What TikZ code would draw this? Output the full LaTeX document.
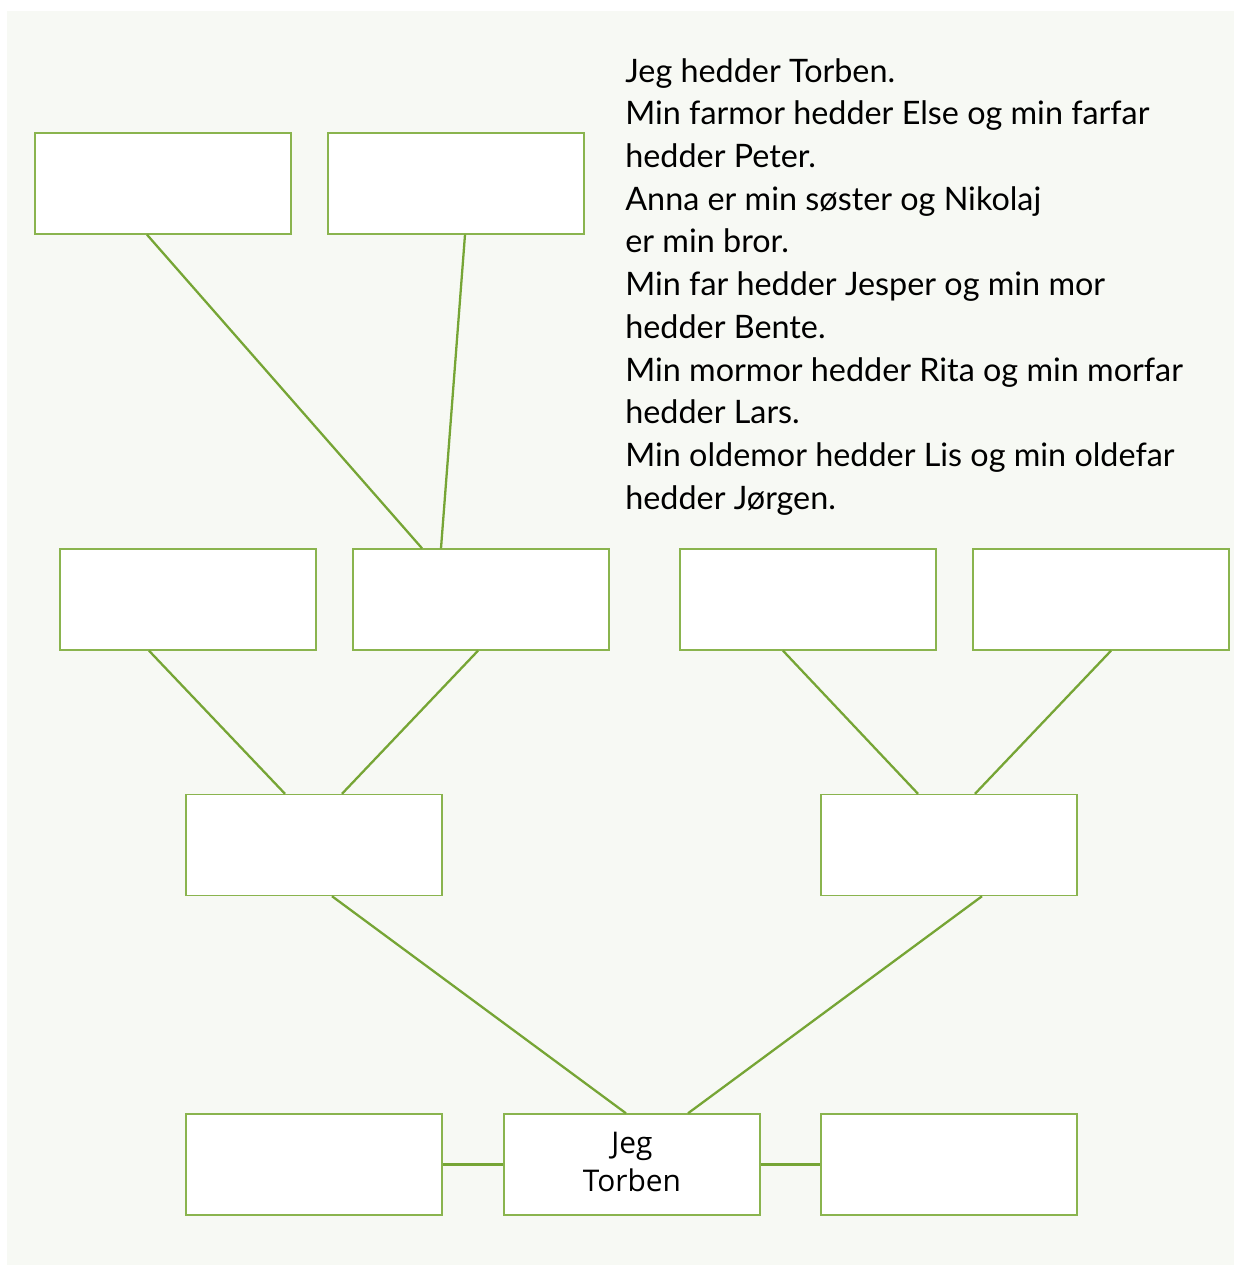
\documentclass[tikz,border=0pt]{standalone}
\usepackage{fontspec}
\usepackage{tikz}
\usetikzlibrary{positioning}
\setmainfont{Lato}
\newfontfamily\haandfont{Open Sans}
\definecolor{baggrund}{RGB}{247,249,244}
\definecolor{kant}{RGB}{138,180,78}
\definecolor{gren}{RGB}{118,165,53}
\tikzset{
  boks/.style={rectangle, draw=kant, fill=white, line width=0.8pt,
    minimum width=51.2mm, minimum height=20.2mm, inner sep=0pt},
  streg/.style={draw=gren, line width=1.3pt},
  tekst/.style={align=left, inner sep=0pt, anchor=north west,
    font=\fontsize{18.4}{24.3}\selectfont},
  navn/.style={align=center, inner sep=0pt,
    font=\haandfont\fontsize{17}{21.5}\selectfont}
}

\begin{document}
\begin{tikzpicture}[x=0.2mm, y=-0.2mm]
  \useasboundingbox (0,0) rectangle (1234,1265);
  \fill[baggrund] (7,11) rectangle (1234,1265);

  % oldeforaeldre
  \node[boks] (oldemor) at (163,183.5) {};
  \node[boks] (oldefar) at (456,183.5) {};
  % bedsteforaeldre
  \node[boks] (farmor) at (188,599.5) {};
  \node[boks] (farfar) at (481,599.5) {};
  \node[boks] (mormor) at (808,599.5) {};
  \node[boks] (morfar) at (1101,599.5) {};
  % foraeldre
  \node[boks] (far) at (314,845) {};
  \node[boks] (mor) at (949,845) {};
  % soeskende
  \node[boks] (soester) at (314,1164.5) {};
  \node[boks] (jeg) at (632,1164.5) {};
  \node[boks] (bror) at (949,1164.5) {};
  \node[navn] (jegnavn) at (632,1162) {Jeg\\Torben};

  \node[tekst] (historie) at (625,58)
    {Jeg hedder Torben.\\
     Min farmor hedder Else og min farfar\\
     hedder Peter.\\
     Anna er min søster og Nikolaj\\
     er min bror.\\
     Min far hedder Jesper og min mor\\
     hedder Bente.\\
     Min mormor hedder Rita og min morfar\\
     hedder Lars.\\
     Min oldemor hedder Lis og min oldefar\\
     hedder Jørgen.};

  \draw[streg] ([xshift=-3.2mm]oldemor.south) -- ([xshift=-11.8mm]farfar.north);
  \draw[streg] ([xshift=1.8mm]oldefar.south) -- ([xshift=-8mm]farfar.north);
  \draw[streg] ([xshift=-7.8mm]farmor.south) -- ([xshift=-5.8mm]far.north);
  \draw[streg] ([xshift=-0.6mm]farfar.south) -- ([xshift=5.6mm]far.north);
  \draw[streg] ([xshift=-5mm]mormor.south) -- ([xshift=-6.2mm]mor.north);
  \draw[streg] ([xshift=2mm]morfar.south) -- ([xshift=5.2mm]mor.north);
  \draw[streg] ([xshift=3.6mm]far.south) -- ([xshift=-1.2mm]jeg.north);
  \draw[streg] ([xshift=6.6mm]mor.south) -- ([xshift=11.2mm]jeg.north);
  \draw[streg] (soester) -- (jeg);
  \draw[streg] (jeg) -- (bror);
\end{tikzpicture}
\end{document}
